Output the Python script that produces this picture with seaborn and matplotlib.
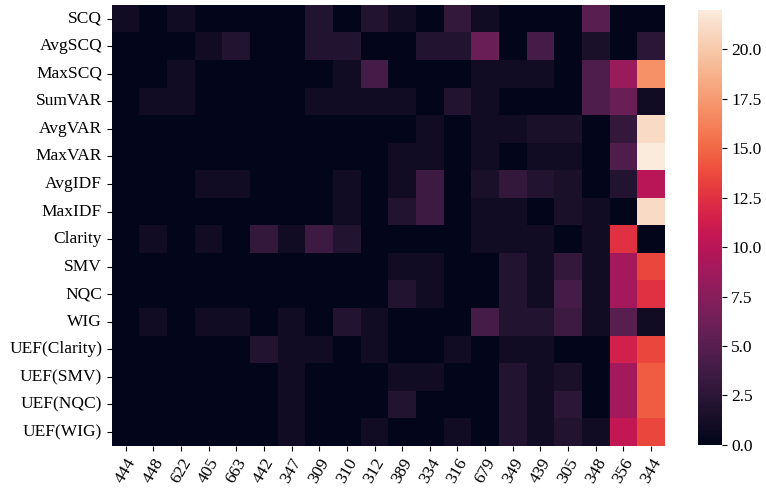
import numpy as np
import pandas as pd
import matplotlib
matplotlib.use("Agg")
import matplotlib.pyplot as plt
import seaborn as sns

predictors = ["SCQ", "AvgSCQ", "MaxSCQ", "SumVAR", "AvgVAR", "MaxVAR", "AvgIDF", "MaxIDF",
              "Clarity", "SMV", "NQC", "WIG", "UEF(Clarity)", "UEF(SMV)", "UEF(NQC)", "UEF(WIG)"]
topics = ["444", "448", "622", "405", "663", "442", "347", "309", "310", "312",
          "389", "334", "316", "679", "349", "439", "305", "348", "356", "344"]

values = [
    [1, 0, 1, 0, 0, 0, 0, 2, 0, 2, 1, 0, 3, 1, 0, 0, 0, 5, 0, 0],
    [0, 0, 0, 1, 2, 0, 0, 2, 2, 0, 0, 2, 2, 6, 0, 4, 0, 1.5, 0, 2.5],
    [0, 0, 1, 0, 0, 0, 0, 0, 1, 4, 0, 0, 0, 1, 1, 1, 0, 4.5, 8.5, 17],
    [0, 1, 1, 0, 0, 0, 0, 1, 1, 1, 1, 0, 2, 1, 0, 0, 0, 4.5, 6, 1],
    [0, 0, 0, 0, 0, 0, 0, 0, 0, 0, 0, 1, 0, 1, 1, 1.5, 1.5, 0, 3, 21],
    [0, 0, 0, 0, 0, 0, 0, 0, 0, 0, 1, 1, 0, 1, 0, 1, 1, 0, 4.5, 22],
    [0, 0, 0, 1, 1, 0, 0, 0, 1, 0, 1, 3.5, 0, 1.5, 3, 2, 1.5, 0, 2, 10],
    [0, 0, 0, 0, 0, 0, 0, 0, 1, 0, 2, 3.5, 0, 1, 1, 0, 1.5, 1, 0, 21],
    [0, 1, 0, 1, 0, 3, 1, 3.5, 2, 0, 0, 0, 0, 1, 1, 1, 0, 1, 12.5, 0],
    [0, 0, 0, 0, 0, 0, 0, 0, 0, 0, 1, 1, 0, 0, 2, 1, 3, 1, 9, 13.5],
    [0, 0, 0, 0, 0, 0, 0, 0, 0, 0, 2, 1, 0, 0, 2, 1, 4, 1, 9, 12.5],
    [0, 1, 0, 1, 1, 0, 1, 0, 2, 1, 0, 0, 0, 4, 2, 2, 3.5, 1, 5, 1],
    [0, 0, 0, 0, 0, 2, 1, 1, 0, 1, 0, 0, 1, 0, 1, 1, 0, 0, 11.5, 13.5],
    [0, 0, 0, 0, 0, 0, 1, 0, 0, 0, 1, 1, 0, 0, 2, 1, 1.5, 0, 9, 14.5],
    [0, 0, 0, 0, 0, 0, 1, 0, 0, 0, 2, 0, 0, 0, 2, 1, 2.5, 0, 9, 14.5],
    [0, 0, 0, 0, 0, 0, 1, 0, 0, 1, 0, 0, 1, 0, 2, 1, 2, 1, 10.5, 13.5],
]

df = pd.DataFrame(values, index=predictors, columns=topics)

plt.rcParams["font.family"] = ["Liberation Serif", "DejaVu Serif"]
plt.rcParams["font.size"] = 12.5

fig = plt.figure(figsize=(7.66, 4.91), dpi=100)
ax = fig.add_axes([0.146, 0.092, 0.722, 0.898])
cax = fig.add_axes([0.911, 0.094, 0.031, 0.886])
ticks = np.arange(0, 22.5, 2.5)
sns.heatmap(df, cmap="rocket", vmin=0, vmax=22, ax=ax, cbar_ax=cax,
            cbar_kws={"ticks": ticks})
ax.set_xticklabels(ax.get_xticklabels(), rotation=60)
ax.set_yticklabels(ax.get_yticklabels(), rotation=0)
cax.set_yticklabels([f"{t:.1f}" for t in ticks])
fig.savefig("out.png")
